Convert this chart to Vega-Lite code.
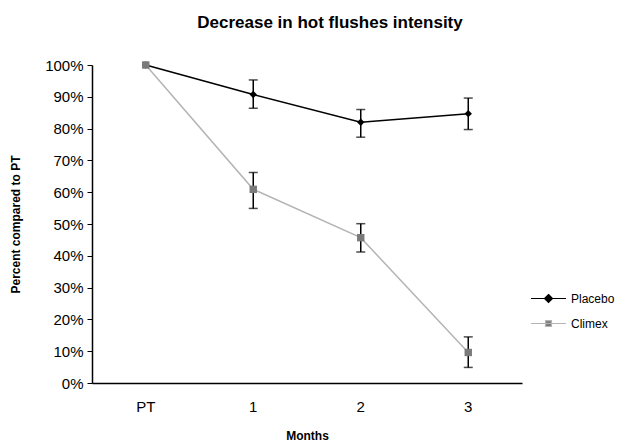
{
  "$schema": "https://vega.github.io/schema/vega-lite/v6.json",
  "autosize": "none",
  "width": 430,
  "height": 318,
  "padding": {"left": 92, "top": 65, "right": 109, "bottom": 60},
  "background": "white",
  "config": {
    "view": {"stroke": null},
    "font": "Liberation Sans",
    "axisY": {
      "title": "Percent compared to PT",
      "titleFontSize": 12,
      "titleFontWeight": "bold",
      "titleColor": "black",
      "titlePadding": 22,
      "labelFontSize": 15,
      "labelColor": "black",
      "labelPadding": 4,
      "labelOverlap": false,
      "tickSize": 5,
      "tickColor": "black",
      "domainColor": "black",
      "domainWidth": 1.5,
      "grid": false
    }
  },
  "title": {
    "text": "Decrease in hot flushes intensity",
    "fontSize": 17,
    "fontWeight": "bold",
    "font": "Liberation Sans",
    "color": "black",
    "anchor": "middle",
    "dx": 23,
    "offset": 26
  },
  "data": {
    "values": [
      {"month": "PT", "series": "Placebo", "value": 100, "lo": null, "hi": null},
      {"month": "1", "series": "Placebo", "value": 90.7, "lo": 86.4, "hi": 95.3},
      {"month": "2", "series": "Placebo", "value": 82.0, "lo": 77.3, "hi": 86.0},
      {"month": "3", "series": "Placebo", "value": 84.7, "lo": 79.7, "hi": 89.6},
      {"month": "PT", "series": "Climex", "value": 100, "lo": null, "hi": null},
      {"month": "1", "series": "Climex", "value": 60.9, "lo": 54.9, "hi": 66.2},
      {"month": "2", "series": "Climex", "value": 45.7, "lo": 41.2, "hi": 50.1},
      {"month": "3", "series": "Climex", "value": 9.6, "lo": 4.9, "hi": 14.5}
    ]
  },
  "encoding": {
    "x": {
      "field": "month",
      "type": "nominal",
      "sort": ["PT", "1", "2", "3"],
      "scale": {"paddingInner": 0, "paddingOuter": 0},
      "axis": {
        "title": "Months",
        "titleFontSize": 12,
        "titleFontWeight": "bold",
        "titleColor": "black",
        "titlePadding": 16,
        "labelAngle": 0,
        "labelFontSize": 15,
        "labelColor": "black",
        "labelPadding": 16,
        "ticks": false,
        "domainColor": "black",
        "domainWidth": 1.5
      }
    }
  },
  "layer": [
    {
      "mark": {"type": "line", "strokeWidth": 1.5},
      "encoding": {
        "y": {
          "field": "value",
          "type": "quantitative",
          "scale": {"domain": [0, 100]},
          "axis": {
            "title": "Percent compared to PT",
            "values": [0, 10, 20, 30, 40, 50, 60, 70, 80, 90, 100],
            "labelExpr": "datum.value + '%'",
            "labelOverlap": false
          }
        },
        "color": {
          "field": "series",
          "type": "nominal",
          "scale": {"domain": ["Placebo", "Climex"], "range": ["#000000", "#b4b4b4"]},
          "legend": null
        },
        "detail": {"field": "series"}
      }
    },
    {
      "mark": {"type": "rule", "color": "black", "strokeWidth": 1.5},
      "encoding": {
        "y": {
          "field": "lo",
          "type": "quantitative",
          "axis": {
            "title": "Percent compared to PT",
            "values": [0, 10, 20, 30, 40, 50, 60, 70, 80, 90, 100],
            "labelExpr": "datum.value + '%'",
            "labelOverlap": false
          }
        },
        "y2": {"field": "hi"}
      }
    },
    {
      "mark": {"type": "tick", "color": "black", "size": 9, "thickness": 1.5, "orient": "horizontal"},
      "encoding": {
        "y": {
          "field": "lo",
          "type": "quantitative",
          "axis": {
            "title": "Percent compared to PT",
            "values": [0, 10, 20, 30, 40, 50, 60, 70, 80, 90, 100],
            "labelExpr": "datum.value + '%'",
            "labelOverlap": false
          }
        }
      }
    },
    {
      "mark": {"type": "tick", "color": "black", "size": 9, "thickness": 1.5, "orient": "horizontal"},
      "encoding": {
        "y": {
          "field": "hi",
          "type": "quantitative",
          "axis": {
            "title": "Percent compared to PT",
            "values": [0, 10, 20, 30, 40, 50, 60, 70, 80, 90, 100],
            "labelExpr": "datum.value + '%'",
            "labelOverlap": false
          }
        }
      }
    },
    {
      "mark": {"type": "point", "filled": true, "opacity": 1, "size": 55},
      "encoding": {
        "y": {
          "field": "value",
          "type": "quantitative",
          "axis": {
            "title": "Percent compared to PT",
            "values": [0, 10, 20, 30, 40, 50, 60, 70, 80, 90, 100],
            "labelExpr": "datum.value + '%'",
            "labelOverlap": false
          }
        },
        "color": {
          "field": "series",
          "type": "nominal",
          "scale": {"domain": ["Placebo", "Climex"], "range": ["#000000", "#7a7a7a"]},
          "legend": null
        },
        "shape": {
          "field": "series",
          "type": "nominal",
          "scale": {"domain": ["Placebo", "Climex"], "range": ["diamond", "square"]},
          "legend": null
        }
      }
    },
    {
      "transform": [{"filter": "datum.month == 'none'"}],
      "mark": {"type": "point", "filled": true, "opacity": 1},
      "encoding": {
        "y": {
          "field": "value",
          "type": "quantitative",
          "axis": {
            "title": "Percent compared to PT",
            "values": [0, 10, 20, 30, 40, 50, 60, 70, 80, 90, 100],
            "labelExpr": "datum.value + '%'",
            "labelOverlap": false
          }
        },
        "fill": {
          "field": "series",
          "type": "nominal",
          "scale": {"domain": ["Placebo", "Climex"], "range": ["#000000", "#7a7a7a"]},
          "legend": {
            "title": null,
            "orient": "none",
            "legendX": 438,
            "legendY": 215,
            "labelFontSize": 12,
            "labelColor": "black",
            "symbolSize": 1225,
            "symbolStrokeWidth": 1.2,
            "rowPadding": -19,
            "labelOffset": 4
          }
        },
        "stroke": {
          "field": "series",
          "type": "nominal",
          "scale": {"domain": ["Placebo", "Climex"], "range": ["#000000", "#b4b4b4"]}
        },
        "shape": {
          "field": "series",
          "type": "nominal",
          "scale": {"domain": ["Placebo", "Climex"], "range": ["M-1,0H1M0,-0.23L0.23,0L0,0.23L-0.23,0Z", "M-1,0H1M-0.17,-0.17H0.17V0.17H-0.17Z"]}
        }
      }
    }
  ],
  "resolve": {"scale": {"color": "independent", "shape": "independent", "fill": "independent", "stroke": "independent"}}
}
